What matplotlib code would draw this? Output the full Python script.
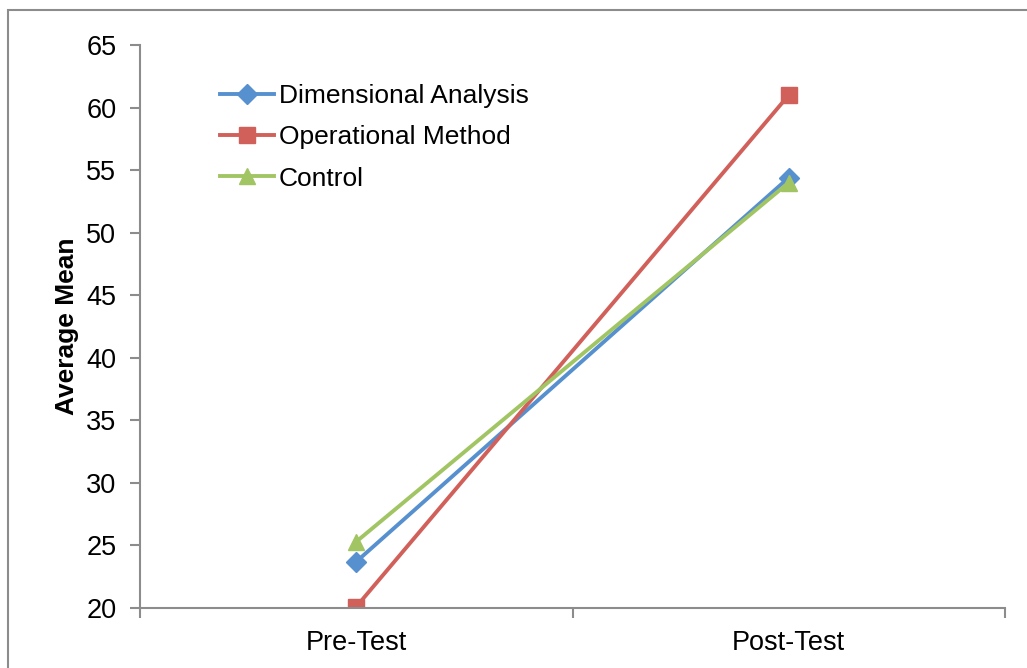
import matplotlib.pyplot as plt
from matplotlib.patches import Rectangle

plt.rcParams['font.family'] = ['Liberation Sans', 'DejaVu Sans']

# Data
phases = ["Pre-Test", "Post-Test"]
dimensional = [23.7, 54.4]
operational = [20.1, 61.0]
control = [25.3, 54.0]

fig = plt.figure(figsize=(10.27, 6.68), dpi=100)
ax = fig.add_axes([0.1363, 0.0898, 0.8423, 0.8428])

# outer chart frame (Excel style)
fig.patches.append(Rectangle((8 / 1027, -0.1), 1.2, (668 - 10) / 668 + 0.1,
                             transform=fig.transFigure, fill=False,
                             edgecolor="#8c8c8c", linewidth=1.5))

x = range(len(phases))
ax.plot(x, dimensional, color="#5790cf", lw=2.8, marker="D", ms=10,
        label="Dimensional Analysis")
ax.plot(x, operational, color="#d1605a", lw=2.8, marker="s", ms=11,
        label="Operational Method")
ax.plot(x, control, color="#a2c564", lw=2.8, marker="^", ms=12,
        label="Control")

ax.set_xlim(-0.5, 1.5)
ax.set_ylim(20, 65)
ax.set_yticks(range(20, 66, 5))
ax.set_xticks([-0.5, 0.5, 1.5])
ax.set_xticklabels([])
ax.set_xticks(list(x), minor=True)
ax.set_xticklabels(phases, minor=True)
ax.tick_params(axis="x", which="minor", length=0, pad=16, labelsize=19.5)
ax.tick_params(axis="x", which="major", length=7, width=1.5, color="#8c8c8c", direction="out")
ax.tick_params(axis="y", length=7, width=1.5, color="#8c8c8c", direction="out",
               labelsize=19.5, pad=10)

for side in ["top", "right"]:
    ax.spines[side].set_visible(False)
for side in ["left", "bottom"]:
    ax.spines[side].set_color("#8c8c8c")
    ax.spines[side].set_linewidth(1.5)

ax.set_ylabel("Average Mean", fontsize=19, fontweight="bold", labelpad=5)

ax.legend(loc="upper left", bbox_to_anchor=(0.08, 0.949), frameon=False,
          fontsize=19, handlelength=2.05, handletextpad=0.2, labelspacing=0.65,
          borderaxespad=0)

fig.savefig("out.png", dpi=100)
